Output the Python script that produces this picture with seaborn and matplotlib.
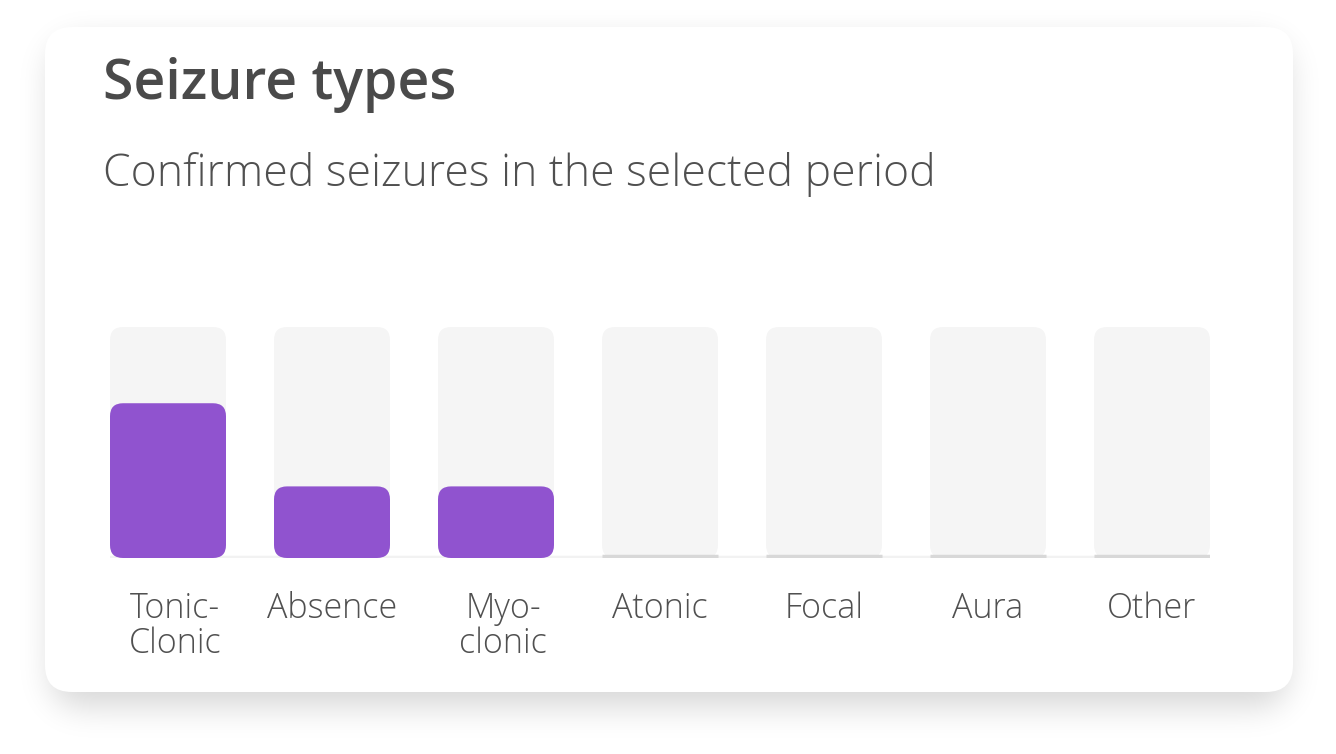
import matplotlib
matplotlib.use("Agg")
import matplotlib.pyplot as plt
import matplotlib.transforms as mtransforms
import numpy as np
import pandas as pd
import seaborn as sns
from matplotlib.patches import FancyBboxPatch

# %% DATA
seizure_types = ["Tonic-\nClonic", "Absence", "Myo-\nclonic", "Atonic", "Focal", "Aura", "Other"]
share_pct = [67, 31, 31, 0, 0, 0, 0]  # bar height as % of the track
track_pct = [100, 100, 100, 100, 100, 100, 100]

title = "Seizure types"
subtitle = "Confirmed seizures in the selected period"

PURPLE = "#9053cf"
TRACK = "#f5f5f5"
TEXT = "#4a4a4a"

df = pd.DataFrame({"type": seizure_types, "share": share_pct, "track": track_pct})

# %% FIGURE
W, H = 1336, 754
sns.set_theme(style="white")
plt.rcParams["font.family"] = ["Open Sans", "DejaVu Sans"]
fig = plt.figure(figsize=(W / 100, H / 100), dpi=100)
fig.patch.set_facecolor("white")

# background axes in pixel units for the card + shadow
bg = fig.add_axes([0, 0, 1, 1])
bg.set_xlim(0, W)
bg.set_ylim(H, 0)
bg.axis("off")

cx0, cy0, cx1, cy1, rad = 45, 27, 1293, 692, 27

# soft shadow: rounded mask, offset, blurred
yy, xx = np.mgrid[0:H, 0:W]
off = 14
mx0, mx1, my0, my1 = cx0 + 6, cx1 - 6, cy0 + off, cy1 + off
dx = np.maximum(np.maximum(mx0 + rad - xx, xx - (mx1 - rad)), 0)
dy = np.maximum(np.maximum(my0 + rad - yy, yy - (my1 - rad)), 0)
mask = (np.hypot(dx, dy) <= rad).astype(float)


def blur(a, sigma):
    k = np.arange(-3 * sigma, 3 * sigma + 1)
    g = np.exp(-(k ** 2) / (2 * sigma ** 2))
    g /= g.sum()
    a = np.apply_along_axis(lambda r: np.convolve(r, g, mode="same"), 1, a)
    a = np.apply_along_axis(lambda c: np.convolve(c, g, mode="same"), 0, a)
    return a


shadow = blur(mask, 16) * 0.16
rgba = np.zeros((H, W, 4))
rgba[..., 3] = shadow
bg.imshow(rgba, extent=(0, W, H, 0), zorder=0, interpolation="bilinear")

card = FancyBboxPatch((cx0, cy0), cx1 - cx0, cy1 - cy0,
                      boxstyle=f"round,pad=0,rounding_size={rad}",
                      fc="white", ec="none", zorder=1)
bg.add_patch(card)

bg.text(103, 99, title, fontsize=40, fontweight="semibold", color=TEXT,
        ha="left", va="baseline", zorder=2)
bg.text(103, 186, subtitle, fontsize=32, fontweight="light", color="#505050",
        ha="left", va="baseline", zorder=2)

# %% BARS
ax = fig.add_axes([110 / W, (H - 558) / H, 1100 / W, 231 / H])
ax.patch.set_alpha(0)
bw = 116 / 164
sns.barplot(data=df, x="type", y="track", color=TRACK, width=bw,
            saturation=1, ax=ax, zorder=2)
sns.barplot(data=df, x="type", y="share", color=PURPLE, width=bw,
            saturation=1, ax=ax, zorder=3)
n = len(seizure_types)
ax.set_xlim(-bw / 2, n - 1 + bw / 2)
ax.set_ylim(0, 100)

# swap the plain rectangles for rounded ones
px_x = 1100 / (n - 1 + bw)
px_y = 231 / 100
r = 13 / px_x
for p in list(ax.patches):
    x, y = p.get_x(), p.get_y()
    w, h = p.get_width(), p.get_height()
    fc, z = p.get_facecolor(), p.get_zorder()
    p.remove()
    if h <= 0:
        continue
    ax.add_patch(FancyBboxPatch((x, y), w, h,
                                boxstyle=f"round,pad=0,rounding_size={r}",
                                mutation_aspect=px_x / px_y,
                                fc=fc, ec="none", zorder=z))

ax.axhline(0.5, color="#f2f2f2", lw=2.5, zorder=1)
zero_idx = [i for i, v in enumerate(share_pct) if v == 0]
ax.hlines([0.65] * len(zero_idx), [i - bw / 2 for i in zero_idx],
          [i + bw / 2 for i in zero_idx], color="#d8d8d8", lw=2.5, zorder=4)

sns.despine(ax=ax, left=True, bottom=True)
ax.set_yticks([])
ax.set_xlabel("")
ax.set_ylabel("")
ax.tick_params(axis="x", length=0, pad=24)
ax.set_xticks(range(n))
ax.set_xticklabels(seizure_types, fontsize=24.5, fontweight="light", color="#505050",
                   linespacing=1.02, va="top")
# two-line labels sit a little right of the bar centre in the reference
nudge = mtransforms.ScaledTranslation(0.07, 0, fig.dpi_scale_trans)
for lab in ax.get_xticklabels():
    if "\n" in lab.get_text():
        lab.set_transform(lab.get_transform() + nudge)

fig.savefig("out.png", dpi=100, facecolor="white")
